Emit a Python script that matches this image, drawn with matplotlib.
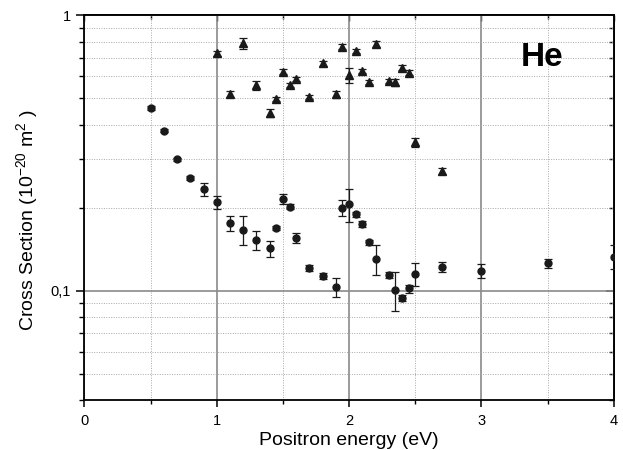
import matplotlib

matplotlib.use("Agg")
import matplotlib.pyplot as plt
import numpy as np
from matplotlib.ticker import FixedLocator, NullFormatter, FixedFormatter

plt.rcParams["font.family"] = ["Liberation Sans", "DejaVu Sans"]
plt.rcParams["mathtext.default"] = "regular"

# circles: energy (eV), cross section, lower / upper error bounds
circ_x = [0.5, 0.6, 0.7, 0.8, 0.9, 1.0, 1.1, 1.2, 1.3, 1.4, 1.45, 1.5, 1.55, 1.6,
          1.7, 1.8, 1.9, 1.95, 2.0, 2.05, 2.1, 2.15, 2.2, 2.3, 2.35, 2.4, 2.45,
          2.5, 2.7, 3.0, 3.5, 4.0]
circ_y = [0.459, 0.380, 0.300, 0.256, 0.233, 0.209, 0.176, 0.166, 0.153, 0.143,
          0.169, 0.2145, 0.2017, 0.155, 0.121, 0.113, 0.1034, 0.200, 0.2057,
          0.189, 0.1746, 0.150, 0.130, 0.114, 0.101, 0.0943, 0.102, 0.115,
          0.122, 0.118, 0.1264, 0.133]
circ_lo = [0.452, 0.375, 0.296, 0.252, 0.221, 0.198, 0.164, 0.146, 0.141, 0.133,
           0.166, 0.206, 0.198, 0.149, 0.118, 0.110, 0.0946, 0.186, 0.178,
           0.185, 0.170, 0.147, 0.1136, 0.111, 0.0843, 0.092, 0.098, 0.104,
           0.117, 0.111, 0.121, 0.120]
circ_hi = [0.466, 0.385, 0.304, 0.260, 0.245, 0.220, 0.187, 0.186, 0.164, 0.152,
           0.172, 0.224, 0.206, 0.162, 0.124, 0.116, 0.111, 0.214, 0.233,
           0.193, 0.179, 0.153, 0.146, 0.117, 0.1173, 0.0965, 0.105, 0.126,
           0.1267, 0.125, 0.1307, 0.146]

# triangles
tri_x = [1.0, 1.1, 1.2, 1.3, 1.4, 1.45, 1.5, 1.55, 1.6, 1.7, 1.8, 1.9, 1.95,
         2.0, 2.05, 2.1, 2.15, 2.2, 2.3, 2.35, 2.4, 2.45, 2.5, 2.7]
tri_y = [0.726, 0.515, 0.794, 0.557, 0.442, 0.494, 0.623, 0.557, 0.586, 0.503,
         0.668, 0.517, 0.767, 0.606, 0.742, 0.626, 0.571, 0.785, 0.576, 0.571,
         0.644, 0.618, 0.345, 0.272]
tri_lo = [0.712, 0.503, 0.753, 0.535, 0.425, 0.486, 0.610, 0.546, 0.575, 0.494,
          0.656, 0.500, 0.752, 0.565, 0.728, 0.614, 0.560, 0.765, 0.565, 0.555,
          0.632, 0.607, 0.333, 0.266]
tri_hi = [0.740, 0.528, 0.823, 0.576, 0.457, 0.503, 0.636, 0.568, 0.598, 0.512,
          0.681, 0.530, 0.782, 0.644, 0.756, 0.639, 0.583, 0.805, 0.588, 0.585,
          0.657, 0.630, 0.358, 0.279]

x_ticks = [0, 1, 2, 3, 4]
x_minor = [0.5, 1.5, 2.5, 3.5]
y_major = [0.1, 1]
y_labels = ["0,1", "1"]
y_minor = [0.04, 0.05, 0.06, 0.07, 0.08, 0.09, 0.2, 0.3, 0.4, 0.5, 0.6, 0.7, 0.8, 0.9]


def yerr(y, lo, hi):
    y = np.asarray(y)
    return [y - np.asarray(lo), np.asarray(hi) - y]


fig = plt.figure(figsize=(6.23, 4.5), dpi=100)
ax = fig.add_axes([0.1355, 0.1102, 0.8496, 0.8564])
ax.set_yscale("log")
ax.set_xlim(0, 4)
ax.set_ylim(0.04, 1)

ink = "#1a1a1a"
ax.errorbar(circ_x, circ_y, yerr=yerr(circ_y, circ_lo, circ_hi), fmt="o",
            ms=5, color=ink, ecolor=ink, elinewidth=0.9, capsize=3.2,
            capthick=0.9, zorder=3)
ax.errorbar(tri_x, tri_y, yerr=yerr(tri_y, tri_lo, tri_hi), fmt="^",
            ms=6, color=ink, ecolor=ink, elinewidth=0.9, capsize=3.2,
            capthick=0.9, zorder=3)

ax.xaxis.set_major_locator(FixedLocator(x_ticks))
ax.xaxis.set_minor_locator(FixedLocator(x_minor))
ax.yaxis.set_major_locator(FixedLocator(y_major))
ax.yaxis.set_major_formatter(FixedFormatter(y_labels))
ax.yaxis.set_minor_locator(FixedLocator(y_minor))
ax.yaxis.set_minor_formatter(NullFormatter())

ax.grid(which="major", color="#8a8a8a", lw=1.2, ls="-")
ax.grid(which="minor", color="#a8a8a8", lw=0.7, ls=(0, (1, 1.5)))
ax.set_axisbelow(True)

for s in ax.spines.values():
    s.set_linewidth(1.3)

ax.tick_params(axis="x", which="major", direction="out", length=5, width=1.1,
               labelsize=10.5, pad=5, top=False)
ax.tick_params(axis="x", which="minor", direction="out", length=3, width=1.0,
               top=False)
ax.tick_params(axis="y", which="major", direction="out", length=6, width=1.1,
               labelsize=10.5, right=False)
ax.tick_params(axis="y", which="minor", direction="out", length=3.5, width=1.0,
               right=False)

top = ax.secondary_xaxis("top")
top.xaxis.set_major_locator(FixedLocator(x_ticks))
top.xaxis.set_minor_locator(FixedLocator(x_minor))
top.tick_params(which="major", direction="in", length=4, width=1.0, labeltop=False)
top.tick_params(which="minor", direction="in", length=3, width=1.0)
top.spines["top"].set_linewidth(1.3)

right = ax.secondary_yaxis("right")
right.yaxis.set_major_locator(FixedLocator(y_major))
right.yaxis.set_minor_locator(FixedLocator(y_minor))
right.yaxis.set_minor_formatter(NullFormatter())
right.tick_params(which="major", direction="in", length=6, width=1.1, labelright=False)
right.tick_params(which="minor", direction="in", length=3.5, width=1.0)
right.spines["right"].set_linewidth(1.3)

ax.set_xlabel("Positron energy (eV)", fontsize=14, labelpad=3)
ax.set_ylabel("Cross Section (10$^{-20}$ m$^2$ )", fontsize=14)
ax.yaxis.set_label_coords(-0.084, 0.467)

ax.text(0.8645, 0.8685, "He", transform=ax.transAxes, fontsize=24,
        fontweight="bold", ha="center", va="baseline")

fig.savefig("out.png", dpi=100)
